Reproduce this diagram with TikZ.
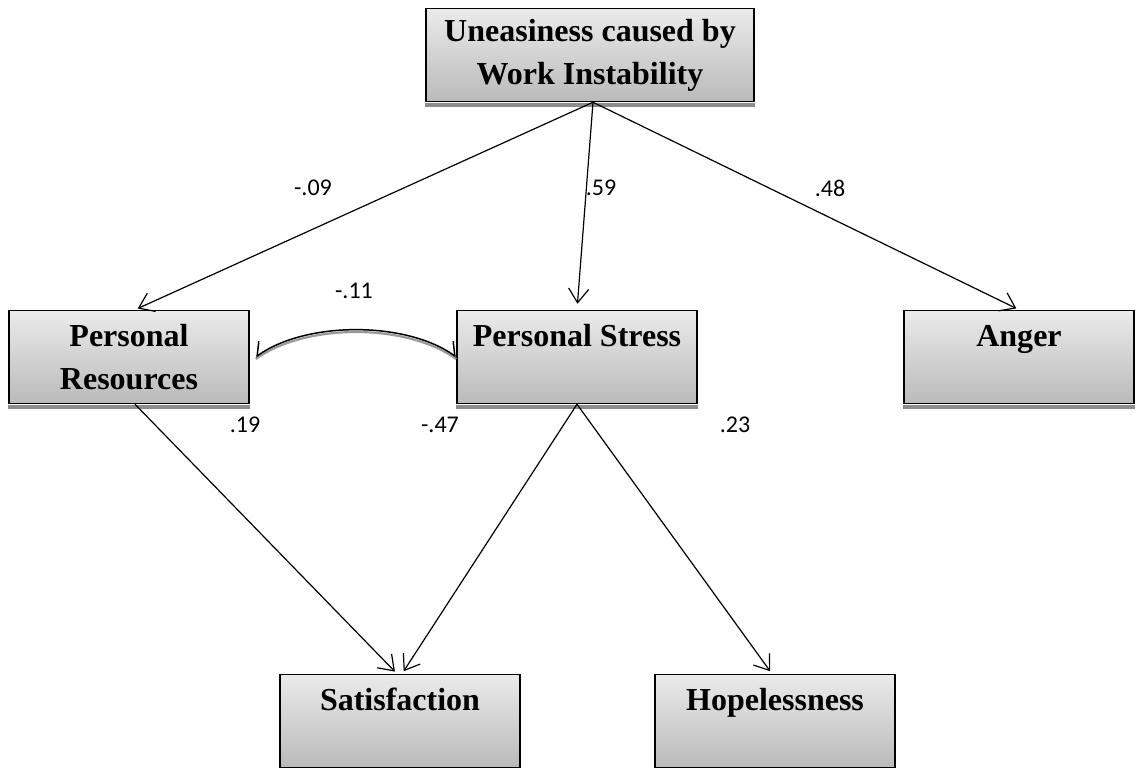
\documentclass[tikz,border=0pt]{standalone}
\usepackage{fontspec}
\setmainfont{Liberation Serif}
\newfontfamily\coeffont{Carlito}
\usetikzlibrary{arrows.meta}
\tikzset{factor/.style={rectangle,draw=black,line width=1.5bp,top color=black!8,bottom color=black!27,
  minimum height=93bp,inner sep=0pt,align=center,font=\fontsize{32bp}{43bp}\selectfont\bfseries}}
\tikzset{coef/.style={font=\coeffont\fontsize{24bp}{28bp}\selectfont,inner sep=0pt}}
\tikzset{effect/.style={-{Straight Barb[length=14bp,width=20bp]},line width=1.2bp,shorten >=3bp}}
\tikzset{corrtip/.tip={Straight Barb[harpoon,length=10bp,width=22bp]}}
\tikzset{corrtipL/.tip={Straight Barb[harpoon,swap,length=10bp,width=22bp]}}

\begin{document}
\begin{tikzpicture}[x=1bp,y=-1bp]
\useasboundingbox (0,0) rectangle (1136,769);
% \draw[help lines,step=50] (0,0) grid (1136,769);
\node (unease) [factor,minimum width=328bp] at (590,55) {Uneasiness caused by\\Work Instability};
\node (res) [factor,minimum width=240bp] at (129,357) {Personal\\Resources};
\node (stress) [factor,minimum width=240bp] at (577,357) {Personal Stress\\\mbox{}};
\node (anger) [factor,minimum width=230bp] at (1019,357) {Anger\\\mbox{}};
\node (satis) [factor,minimum width=240bp] at (400,721) {Satisfaction\\\mbox{}};
\node (hope) [factor,minimum width=240bp] at (775,721) {Hopelessness\\\mbox{}};
%
\foreach \n in {unease,res,stress,anger}
  \fill[black!45] ([yshift=-0.75bp]\n.south west) rectangle ([yshift=-4.5bp]\n.south east);
%
\draw[effect] ([xshift=3bp]unease.south) -- ([xshift=6bp]res.north);
\draw[effect,shorten >=6bp] ([xshift=3bp]unease.south) -- (stress.north);
\draw[effect] ([xshift=3bp]unease.south) -- (anger.north);
\draw[effect] ([xshift=6bp]res.south) -- ([xshift=-3bp]satis.north);
\draw[effect] (stress.south) -- ([xshift=2bp]satis.north);
\draw[effect] (stress.south) -- ([xshift=-3bp]hope.north);
% correlation
\draw[black!40,line width=2.2bp] ([xshift=6bp,yshift=-2bp]res.east) .. controls +(50,-36) and +(-50,-36) .. ([yshift=-2bp]stress.west);
\draw[line width=1.5bp,{corrtipL}-{corrtip}] ([xshift=6bp]res.east) .. controls +(50,-36) and +(-50,-36) .. (stress.west);
%
\node (c1) [coef] at (313,188) {-.09};
\node (c2) [coef] at (601,188) {.59};
\node (c3) [coef] at (830,188) {.48};
\node (c4) [coef] at (354,291) {-.11};
\node (c5) [coef] at (245,425) {.19};
\node (c6) [coef] at (440,425) {-.47};
\node (c7) [coef] at (735,425) {.23};
\end{tikzpicture}
\end{document}
